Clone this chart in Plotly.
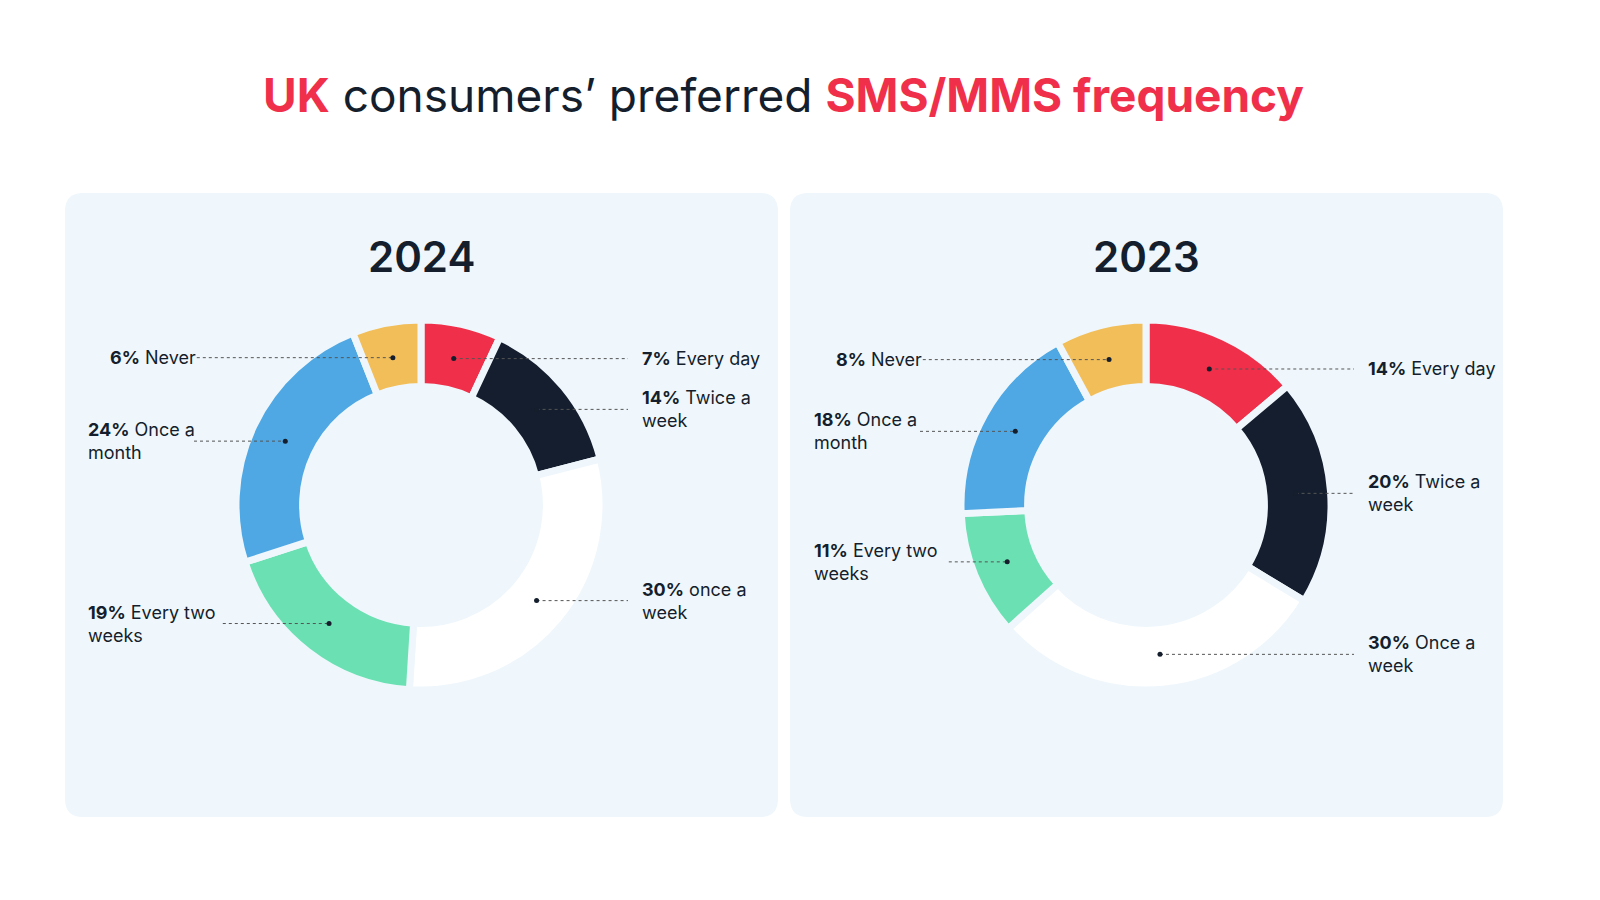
import math
import plotly.graph_objects as go

# positions in px; the page adds an 8px body margin
W, H, OFF = 1600.0, 900.0, 8
def px(x): return (x - OFF) / W
def py(y): return 1 - (y - OFF) / H

categories = ["Every day", "Twice a week", "Once a week", "Every two weeks", "Once a month", "Never"]
labels_2024 = ["Every day", "Twice a<br>week", "once a<br>week", "Every two<br>weeks", "Once a<br>month", "Never"]
labels_2023 = ["Every day", "Twice a<br>week", "Once a<br>week", "Every two<br>weeks", "Once a<br>month", "Never"]
values_2024 = [7, 14, 30, 19, 24, 6]
values_2023 = [14, 20, 30, 11, 18, 8]
colors = ["#f0304a", "#141e2e", "#ffffff", "#6be0b3", "#4fa8e3", "#f2be5a"]
PANEL = "#eff7fc"
INK = "#141e2c"

def rounded_rect(x0, y0, x1, y1, r):
    # path in paper coords, corner radius r in px
    rx, ry = r / W, r / H
    a, b, c, d = px(x0), px(x1), py(y1), py(y0)  # left, right, bottom, top
    return (f"M {a+rx},{d} L {b-rx},{d} Q {b},{d} {b},{d-ry} "
            f"L {b},{c+ry} Q {b},{c} {b-rx},{c} L {a+rx},{c} Q {a},{c} {a},{c+ry} "
            f"L {a},{d-ry} Q {a},{d} {a+rx},{d} Z")

fig = go.Figure()

panels = [
    # year, values, labels, center x px, panel x0, x1, right label x, left label x
    ("2024", values_2024, labels_2024, 421, 65, 778, 640, 86),
    ("2023", values_2023, labels_2023, 1146, 790, 1503, 1366, 812),
]
cy, R, rdot = 505, 185, 150

for year, vals, labs, cx, x0, x1, rx, lx in panels:
    fig.add_shape(type="path", xref="paper", yref="paper",
                  path=rounded_rect(x0, 193, x1, 817, 18),
                  fillcolor=PANEL, line=dict(width=0), layer="below")
    fig.add_trace(go.Pie(
        labels=categories, values=vals, sort=False, direction="clockwise",
        rotation=0, hole=0.64, textinfo="none", hoverinfo="label+percent",
        marker=dict(colors=colors, line=dict(color=PANEL, width=7)),
        domain=dict(x=[px(cx - R), px(cx + R)], y=[py(cy + R), py(cy - R)]),
        showlegend=False))
    fig.add_annotation(text=year, x=px(cx), y=py(257), xref="paper", yref="paper",
                       xanchor="center", yanchor="middle", showarrow=False,
                       font=dict(size=42, color=INK, family="Inter", weight=600))
    total = sum(vals)
    cum = 0
    for v, lab in zip(vals, labs):
        th = 2 * math.pi * (cum + v / 2) / total
        cum += v
        dx = cx + rdot * math.sin(th)
        dy = cy - rdot * math.cos(th)
        text = "<b>%d%%</b> %s" % (v, lab)
        longest = max(len(s) for s in ("%d%% %s" % (v, lab)).split("<br>"))
        if th < math.pi:
            lx0, lx1, tx = dx, rx - 12, rx
        else:
            tx = lx + (22 if "<br>" not in lab else 0)
            lx0, lx1 = tx + longest * 9.6 + 12, dx
        fig.add_shape(type="line", xref="paper", yref="paper",
                      x0=px(lx0), x1=px(lx1), y0=py(dy), y1=py(dy),
                      line=dict(color="#555555", width=1, dash="dot"))
        fig.add_shape(type="circle", xref="paper", yref="paper",
                      x0=px(dx - 2.5), x1=px(dx + 2.5), y0=py(dy + 2.5), y1=py(dy - 2.5),
                      fillcolor=INK, line=dict(width=0))
        fig.add_annotation(text=text, x=px(tx), y=py(dy), xref="paper", yref="paper",
                           xanchor="left", yanchor="middle", align="left", showarrow=False,
                           font=dict(size=18, color=INK, family="Inter"))

fig.add_annotation(
    text="<b><span style='color:#f0304a'>UK</span></b> consumers’ preferred "
         "<b><span style='color:#f0304a'>SMS/MMS frequency</span></b>",
    x=px(783), y=py(95), xref="paper", yref="paper", xanchor="center", yanchor="middle",
    showarrow=False, font=dict(size=46, color=INK, family="Inter"))

fig.update_layout(width=1600, height=900, margin=dict(l=0, r=0, t=0, b=0),
                  paper_bgcolor="white", plot_bgcolor="white")
fig.write_html("out.html")
